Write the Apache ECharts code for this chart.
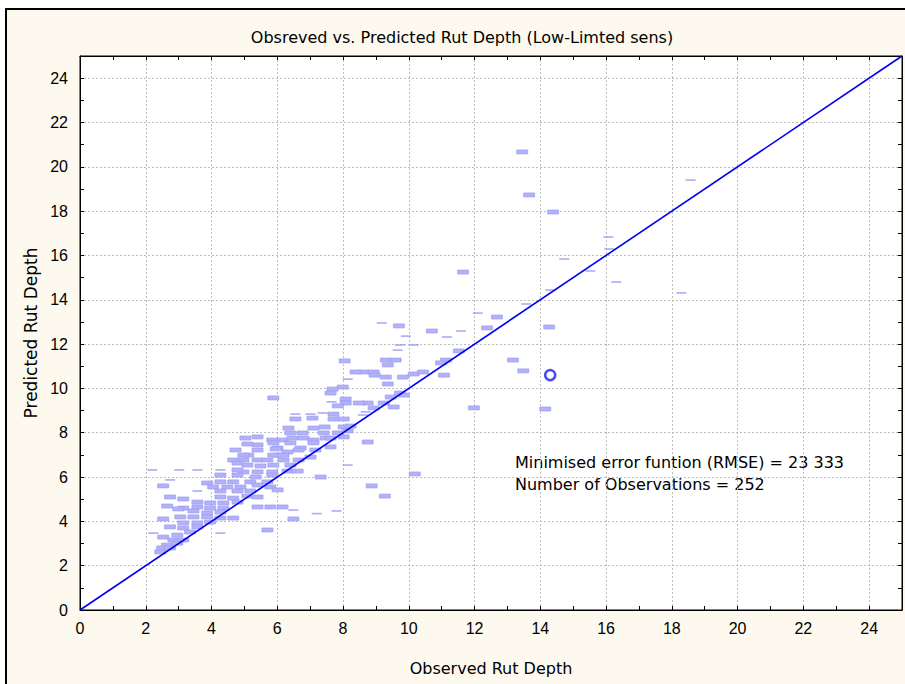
<!DOCTYPE html>
<html><head><meta charset="utf-8">
<script src="https://cdn.jsdelivr.net/npm/echarts@6/dist/echarts.min.js"></script>
<style>
html,body{margin:0;padding:0;background:#fff;}
#frame{position:absolute;left:5px;top:8px;width:920px;height:700px;background:#FDF9EF;border-left:2px solid #000;border-top:2px solid #000;}
#c{position:absolute;left:0;top:0;width:905px;height:684px;}
</style>
</head><body><div id="frame"></div><div id="c"></div>
<script>
// Observed / predicted values, regular (thick) markers
const obsThick = [13.45,13.66,14.39,11.65,12.68,14.27,12.38,10.70,9.70,13.17,13.48,11.98,14.15,10.18,8.87,9.27,8.75,
11.52,9.30,9.60,9.36,11.13,10.98,8.63,8.93,8.96,9.30,9.82,10.15,10.43,11.07,9.36,9.73,9.85,9.45,8.75,9.24,8.93,9.54,
8.05,7.99,7.68,7.62,5.88,8.08,8.08,7.84,7.71,6.55,7.07,7.71,8.02,6.34,7.10,7.44,8.02,6.40,6.77,7.41,7.84,5.03,5.40,5.85,6.16,6.46,6.80,7.10,7.47,4.73,5.40,5.40,6.01,6.31,6.71,7.16,6.04,7.01,5.12,
8.38,8.48,8.23,8.14,7.62,8.02,7.62,7.10,6.40,5.88,5.09,6.65,5.95,4.97,5.88,6.19,4.97,5.40,5.70,6.19,6.65,5.09,5.49,5.88,6.40,4.97,5.40,5.85,6.31,5.34,5.85,7.32,
4.66,4.79,4.79,4.27,4.79,6.62,3.87,4.27,4.66,5.18,5.70,2.53,4.05,4.48,4.88,5.40,5.79,4.27,4.79,5.18,6.01,2.74,3.14,4.27,4.66,5.09,5.40,3.57,3.96,4.36,4.79,2.65,3.14,3.57,3.96,4.36,5.40,5.79,6.16,2.99,3.45,3.87,4.27,3.05,3.45,3.87,4.27,4.66,2.53,6.49,3.14,3.57,3.96,2.74,3.14,3.57,5.70,2.53,2.96,3.35,2.84,3.14,2.65,2.96,2.50,2.74,2.44];
const predThick = [20.67,18.73,17.96,15.25,13.22,12.77,12.73,12.59,12.82,11.28,10.79,9.12,9.07,6.14,5.60,5.14,7.58,
11.69,11.28,11.28,11.06,11.28,11.15,10.74,10.74,10.60,10.51,10.51,10.65,10.74,10.60,10.20,9.79,9.70,9.61,9.34,9.34,9.12,9.16,
11.24,10.06,9.97,9.79,9.57,9.52,9.34,9.21,8.84,8.62,8.66,8.62,8.62,8.21,8.21,8.26,8.26,7.99,7.99,7.99,7.99,7.76,7.81,7.67,7.67,7.76,7.76,7.67,7.76,7.22,7.45,7.22,7.31,7.13,7.31,7.22,6.99,6.90,6.99,
10.74,9.34,8.30,8.08,7.76,7.81,7.36,7.54,7.54,7.54,7.49,7.22,7.27,6.99,6.99,6.99,6.77,6.77,6.77,6.77,6.77,6.54,6.50,6.54,6.54,6.23,6.23,6.23,6.27,6.00,6.09,6.00,
6.77,6.63,6.32,6.09,6.09,6.27,5.73,5.78,5.78,5.78,5.78,5.60,5.55,5.55,5.55,5.64,5.55,5.37,5.37,5.37,5.42,5.10,5.01,5.10,5.05,5.14,5.10,4.87,4.83,4.83,4.87,4.69,4.60,4.65,4.60,4.60,4.65,4.65,4.65,4.56,4.47,4.38,4.42,4.20,4.20,4.20,4.15,4.15,4.11,4.11,3.93,3.93,3.97,3.75,3.70,3.75,3.61,3.29,3.38,3.52,3.16,3.16,2.93,3.02,2.80,2.80,2.62];
// Observed / predicted values, thin markers
const obsThin = [18.57,16.07,16.10,14.73,15.52,16.31,14.30,18.29,13.57,12.10,11.59,9.18,9.91,11.16,9.73,10.15,9.66,8.69,8.60,8.14,7.65,6.55,7.01,7.38,8.14,2.20,3.02,3.57,4.27,2.74,3.57,6.49,2.23,4.27,7.20,7.80];
const predThin = [19.40,16.83,16.29,15.84,15.30,14.80,14.44,14.31,13.81,13.40,12.59,12.95,12.36,12.32,11.96,11.96,11.73,8.94,8.80,10.42,9.39,8.84,8.84,8.89,6.54,6.32,6.32,6.32,6.32,5.87,5.37,4.51,3.47,3.47,4.35,4.47];
// Highlighted point
const obsCircle = [14.30];
const predCircle = [10.60];
// Reference line (observed = predicted)
const lineObs = [0, 25];
const linePred = [0, 25];

const titleText = 'Obsreved vs. Predicted Rut Depth (Low-Limted sens)';
const xName = 'Observed Rut Depth';
const yName = 'Predicted Rut Depth';
const noteLines = ['Minimised error funtion (RMSE) = 23 333', 'Number of Observations = 252'];

const zip = (a, b) => a.map((v, i) => [v, b[i]]);
const tickFont = { fontFamily: 'Liberation Sans', fontSize: 16, color: '#000' };
const evenFmt = v => (Math.round(v) % 2 === 0 ? String(Math.round(v)) : '');

const chart = echarts.init(document.getElementById('c'), null, { renderer: 'svg' });
const gridLine = { show: true, lineStyle: { color: '#bdbdbd', type: [2, 2], width: 1 } };
const axisBase = (extra) => Object.assign({
  type: 'value', min: 0, max: 25, gridIndex: 0,
  axisLine: { show: true, onZero: false, lineStyle: { color: '#000', width: 1 } },
  axisTick: { show: true, inside: true, length: 4, lineStyle: { color: '#000' } },
  splitLine: { show: false }
}, extra);

chart.setOption({
  animation: false,
  backgroundColor: 'transparent',
  grid: { left: 80, top: 56, width: 822, height: 554, show: true, backgroundColor: '#fff', borderColor: '#000', borderWidth: 1 },
  xAxis: [
    axisBase({ position: 'bottom', interval: 1,
      axisLabel: Object.assign({ formatter: evenFmt, margin: 10 }, tickFont),
      name: xName, nameLocation: 'middle', nameGap: 50,
      nameTextStyle: { fontFamily: 'DejaVu Sans', fontSize: 16, color: '#000' } }),
    axisBase({ position: 'top', interval: 1, axisLabel: { show: false } }),
    axisBase({ position: 'bottom', interval: 2, axisLine: { show: false }, axisTick: { show: false }, axisLabel: { show: false }, splitLine: gridLine })
  ],
  yAxis: [
    axisBase({ position: 'left', interval: 1,
      axisLabel: Object.assign({ formatter: evenFmt, margin: 12 }, tickFont),
      name: yName, nameLocation: 'middle', nameGap: 40,
      nameTextStyle: { fontFamily: 'DejaVu Sans', fontSize: 17, color: '#000' } }),
    axisBase({ position: 'right', interval: 1, axisLabel: { show: false } }),
    axisBase({ position: 'left', interval: 2, axisLine: { show: false }, axisTick: { show: false }, axisLabel: { show: false }, splitLine: gridLine })
  ],
  graphic: [
    { type: 'text', x: 462, y: 37, style: { text: titleText, font: '16px "DejaVu Sans"', fill: '#000', align: 'center', verticalAlign: 'middle' } },
    { type: 'text', x: 515, y: 462, style: { text: noteLines[0], font: '16px "DejaVu Sans"', fill: '#000', align: 'left', verticalAlign: 'middle' } },
    { type: 'text', x: 515, y: 484, style: { text: noteLines[1], font: '16px "DejaVu Sans"', fill: '#000', align: 'left', verticalAlign: 'middle' } }
  ],
  series: [
    { type: 'scatter', xAxisIndex: 0, yAxisIndex: 0, data: zip(obsThick, predThick), symbol: 'rect', symbolSize: [11, 4],
      itemStyle: { color: '#b2b2f8', borderColor: '#9c9cf2', borderWidth: 0.6, opacity: 1 }, z: 2 },
    { type: 'scatter', xAxisIndex: 0, yAxisIndex: 0, data: zip(obsThin, predThin), symbol: 'rect', symbolSize: [10, 1.6],
      itemStyle: { color: '#9696f0' }, z: 2 },
    { type: 'line', xAxisIndex: 0, yAxisIndex: 0, data: zip(lineObs, linePred), showSymbol: false,
      lineStyle: { color: '#0000f0', width: 1.6 }, z: 3 },
    { type: 'scatter', xAxisIndex: 0, yAxisIndex: 0, data: zip(obsCircle, predCircle), symbol: 'circle', symbolSize: 10,
      itemStyle: { color: 'rgba(0,0,0,0)', borderColor: '#1a1aff', borderWidth: 2.5 }, z: 4 }
  ]
});
</script>
</body></html>
